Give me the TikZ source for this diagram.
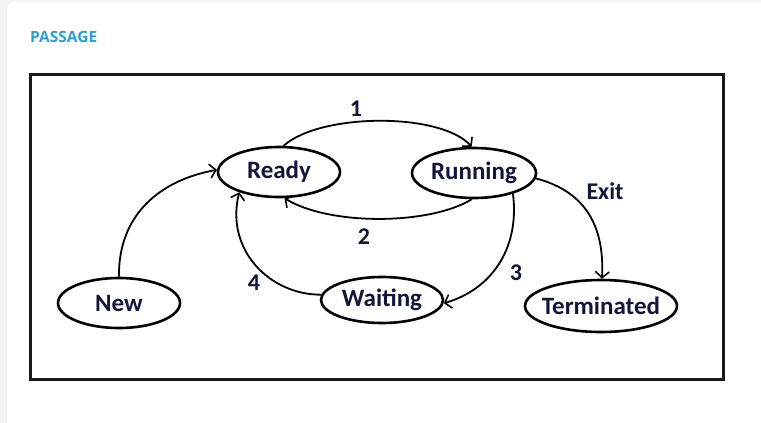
\documentclass[tikz,border=0pt]{standalone}
\usepackage{fontspec}
\setmainfont{Carlito}
\newfontfamily\headfont{Open Sans}
\usetikzlibrary{arrows.meta,shapes.geometric}
\definecolor{ink}{HTML}{13163A}
\definecolor{headblue}{HTML}{2A9FD8}
\definecolor{pagegray}{HTML}{F2F3F4}
\tikzset{
  state/.style={ellipse, draw=black, line width=2.6pt, minimum width=#1, minimum height=50pt, inner sep=0pt,
    font=\fontsize{25}{27}\selectfont\bfseries, text=ink},
  state/.default=122pt,
  trans/.style={draw=black, line width=1.8pt, -{Straight Barb[length=6pt,width=14pt,line width=1.6pt]}},
  lbl/.style={font=\fontsize{24}{26}\selectfont\bfseries, text=ink, inner sep=0pt}
}
\begin{document}
\begin{tikzpicture}[x=1pt,y=1pt]
\useasboundingbox (0,0) rectangle (761,-423);
\fill[pagegray] (0,0) rectangle (761,-423);
\fill[white, rounded corners=8pt] (7,-2) rectangle (775,-440);
\node[font=\headfont\fontsize{15.5}{17}\selectfont\bfseries, text=headblue, anchor=west, inner sep=0pt] (head) at (30,-37) {PASSAGE};
\draw[line width=3pt, black!90] (30,-74) rectangle (723,-379);

\node[state=122pt] (ready) at (279,-172) {Ready};
\node[state=124pt, inner xsep=-3pt] (running) at (474,-173) {Running};
\node[state=122pt] (new) at (119,-303) {New};
\node[state=122pt, minimum height=46pt] (waiting) at (382,-300) {Waiting};
\node[state=152pt, minimum height=52pt, inner xsep=-8pt] (term) at (601,-306) {Terminated};

\draw[trans] (ready.80) .. controls (320,-113) and (440,-112) .. (running.95);
\draw[trans] (running.265) .. controls (430,-225) and (330,-226) .. (ready.-78);
\draw[trans] (running.-28) .. controls (520,-250) and (490,-290) .. (waiting.-3);
\draw[trans] (waiting.175) .. controls (270,-295) and (225,-250) .. (ready.207);
\draw[trans] (new.north) .. controls (118,-215) and (160,-180) .. (ready.178);
\draw[trans] (running.-5) .. controls (580,-190) and (605,-220) .. (term.88);

\node[lbl] (l1) at (356,-109) {1};
\node[lbl] (l2) at (364,-237) {2};
\node[lbl] (l3) at (516,-273) {3};
\node[lbl] (l4) at (254,-283) {4};
\node[lbl] (lexit) at (605,-191) {Exit};
\end{tikzpicture}
\end{document}
